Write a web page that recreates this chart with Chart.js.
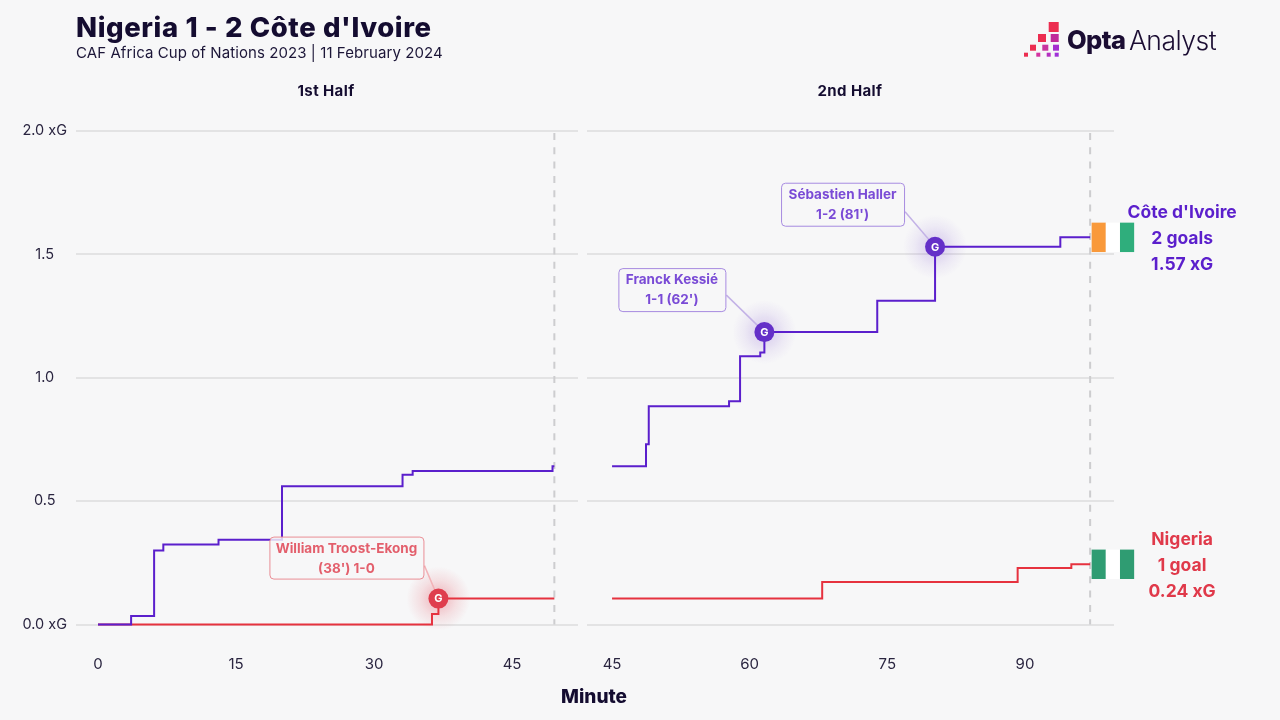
<!DOCTYPE html>
<html>
<head>
<meta charset="utf-8">
<script src="https://cdn.jsdelivr.net/npm/chart.js@4"></script>
<style>
html,body{margin:0;padding:0;background:#f7f7f8;width:1280px;height:720px;overflow:hidden;font-family:Inter,sans-serif;color:#140c30}
canvas{position:absolute;top:0}
.t{position:absolute;white-space:nowrap}
#title{left:76px;top:10px;font-size:27.5px;font-weight:800;line-height:34px;letter-spacing:.6px}
#sub{left:76px;top:44px;font-size:15px;line-height:18px;color:#1c1638;letter-spacing:.08px}
.h{top:82px;font-size:15px;font-weight:700;line-height:18px;width:200px;text-align:center;letter-spacing:.4px}
#minute{left:494px;width:200px;text-align:center;top:686px;font-size:19px;font-weight:800;line-height:22px}
#logo{position:absolute;left:1020px;top:18px}
#opta{left:1067px;top:24px;font-size:25.5px;font-weight:800;line-height:32px;letter-spacing:-.6px;color:#1b0d33}
#analyst{left:1129px;top:24px;font-size:26.5px;font-weight:300;line-height:32px;letter-spacing:-.5px;color:#1b0d33}
</style>
</head>
<body>
<canvas id="c1" width="582" height="720" style="left:0"></canvas>
<canvas id="c2" width="698" height="720" style="left:582px"></canvas>
<div class="t" id="title">Nigeria 1 - 2 Côte d'Ivoire</div>
<div class="t" id="sub">CAF Africa Cup of Nations 2023 | 11 February 2024</div>
<div class="t h" style="left:226px">1st Half</div>
<div class="t h" style="left:750px">2nd Half</div>
<div class="t" id="minute">Minute</div>
<svg id="logo" width="42" height="42" viewBox="0 0 42 42">
<rect x="28.7" y="4" width="10" height="10" fill="#ec2d50"/>
<rect x="18" y="16" width="8" height="8" fill="#ec2d50"/><rect x="30.7" y="16" width="8" height="8" fill="#c02a9a"/>
<rect x="10" y="26.7" width="6" height="6" fill="#ec2d50"/><rect x="22.3" y="26.7" width="6" height="6" fill="#c8349f"/><rect x="33" y="26.7" width="6" height="6" fill="#a52fd0"/>
<rect x="4" y="34.7" width="4" height="4" fill="#ec2d50"/><rect x="16.3" y="34.7" width="4" height="4" fill="#d433a0"/><rect x="26.7" y="34.7" width="4" height="4" fill="#b530c0"/><rect x="34.7" y="34.7" width="4" height="4" fill="#a030d8"/>
</svg>
<div class="t" id="opta">Opta</div>
<div class="t" id="analyst">Analyst</div>
<script>
// ---- data ----
const civMinutes1 = [0, 3.6, 6.1, 7.1, 13.1, 20.0, 33.1, 34.2, 49.4, 49.6];
const civXg1      = [0, 0.034, 0.30, 0.324, 0.343, 0.56, 0.607, 0.622, 0.641, 0.641];
const ngaMinutes1 = [0, 36.3, 37.0, 49.6];
const ngaXg1      = [0, 0.043, 0.105, 0.105];
const civMinutes2 = [45, 48.7, 49.0, 57.75, 58.95, 61.15, 61.6, 73.9, 80.2, 93.85, 97.1];
const civXg2      = [0.641, 0.731, 0.885, 0.905, 1.087, 1.102, 1.185, 1.312, 1.531, 1.569, 1.569];
const ngaMinutes2 = [45, 67.9, 89.2, 95.05, 97.1];
const ngaXg2      = [0.105, 0.1725, 0.229, 0.244, 0.244];
const halfEnd1 = 49.6;
const halfEnd2 = 97.1;
const xTicks1 = [0, 15, 30, 45];
const xTicks2 = [45, 60, 75, 90];
const yTicks = [0, 0.5, 1, 1.5, 2];
const yTickLabels = ['0.0 xG', '0.5', '1.0', '1.5', '2.0 xG'];
const ngaGoalMinute = [37.0];
const ngaGoalXg = [0.105];
const civGoalMinutes = [61.6, 80.2];
const civGoalXg = [1.185, 1.531];
const teamNames = ["Côte d'Ivoire", 'Nigeria'];
const teamGoals = ['2 goals', '1 goal'];
const teamXg = ['1.57 xG', '0.24 xG'];
const ngaCallout = ['William Troost-Ekong', "(38') 1-0"];
const kessieCallout = ['Franck Kessié', "1-1 (62')"];
const hallerCallout = ['Sébastien Haller', "1-2 (81')"];

// ---- styles ----
const GRID = '#e3e3e4', DASH = '#cdcdcf', TICK = '#2a2540';
const PURPLE = '#5b1fcc', RED = '#e6323f', RED_TEXT = '#e0394a';
const FONT = 'Inter, sans-serif';
const zip = (xs, ys) => xs.map((x, i) => ({x, y: ys[i]}));
const line = (xs, ys, color) => ({data: zip(xs, ys), borderColor: color, borderWidth: 2, stepped: true, pointRadius: 0, fill: false, clip: false});
const dash = x => ({data: [{x, y: 2}, {x, y: 0}], borderColor: DASH, borderWidth: 2, borderDash: [7, 7.3], borderDashOffset: -2, pointRadius: 0, clip: false});
const marker = (xs, ys, color) => ({data: zip(xs, ys), showLine: false, pointRadius: 10, pointBackgroundColor: color, pointBorderWidth: 0, clip: false});

function goalGlowPlugin(goals) {
  return {
    id: 'goalGlow',
    beforeDatasetsDraw(chart) {
      const {ctx, scales: {x, y}} = chart;
      goals.forEach(g => {
        const px = x.getPixelForValue(g.x), py = y.getPixelForValue(g.y);
        const gr = ctx.createRadialGradient(px, py, 8, px, py, 32);
        gr.addColorStop(0, g.glow(g.a)); gr.addColorStop(0.5, g.glow(g.a * 0.4)); gr.addColorStop(1, g.glow(0));
        ctx.save();
        ctx.fillStyle = gr;
        ctx.beginPath(); ctx.arc(px, py, 32, 0, Math.PI * 2); ctx.fill();
        ctx.strokeStyle = g.leader; ctx.lineWidth = 1.5;
        ctx.beginPath(); ctx.moveTo(px + g.lx, py + g.ly); ctx.lineTo(px, py); ctx.stroke();
        ctx.restore();
      });
    },
    afterDatasetsDraw(chart) {
      const {ctx, scales: {x, y}} = chart;
      goals.forEach(g => {
        const px = x.getPixelForValue(g.x), py = y.getPixelForValue(g.y);
        ctx.save();
        ctx.textAlign = 'center'; ctx.textBaseline = 'middle';
        ctx.fillStyle = '#fff'; ctx.font = '700 11px ' + FONT;
        ctx.fillText('G', px, py + 0.5);
        const bx = px + g.bx, by = py + g.by;
        ctx.beginPath(); ctx.roundRect(bx + .5, by + .5, g.bw, g.bh, 4);
        ctx.fillStyle = 'rgba(247,247,248,0.82)'; ctx.fill();
        ctx.strokeStyle = g.border; ctx.lineWidth = 1; ctx.stroke();
        ctx.fillStyle = g.text; ctx.font = '700 13.5px ' + FONT;
        ctx.fillText(g.lines[0], bx + g.bw / 2, by + 12);
        ctx.fillText(g.lines[1], bx + g.bw / 2, by + 32);
        ctx.restore();
      });
    }
  };
}

function flagsPlugin(teams) {
  return {
    id: 'flags',
    afterDatasetsDraw(chart) {
      const {ctx, scales: {x, y}} = chart;
      teams.forEach(t => {
        const px = x.getPixelForValue(t.end) + 1.5, py = y.getPixelForValue(t.xg);
        ctx.save();
        t.flag.forEach((c, i) => { ctx.fillStyle = c; ctx.fillRect(px + i * 14.17, py - 14.7, 14.17, 29.4); });
        ctx.textAlign = 'center'; ctx.textBaseline = 'middle';
        ctx.fillStyle = t.color; ctx.font = '700 17.5px ' + FONT;
        const cx = px + 90.5;
        t.lines.forEach((s, i) => ctx.fillText(s, cx, py + 1 + (i - 1) * 26));
        ctx.restore();
      });
    }
  };
}

function options(xMin, xMax, xTicks, left, right, showY) {
  return {
    responsive: false, animation: false, devicePixelRatio: 1,
    layout: {autoPadding: false, padding: {left, right, top: 131, bottom: 40}},
    plugins: {legend: {display: false}, tooltip: {enabled: false}},
    scales: {
      x: {
        type: 'linear', min: xMin, max: xMax, display: true,
        grid: {display: false}, border: {display: false},
        afterBuildTicks: s => { s.ticks = xTicks.map(value => ({value})); },
        afterFit: s => { s.height = 55.5; s.paddingLeft = 0; s.paddingRight = 0; },
        ticks: {autoSkip: false, maxRotation: 0, padding: 23, font: {family: FONT, size: 15}, color: TICK, display: true, callback: v => String(v)}
      },
      y: {
        type: 'linear', min: 0, max: 2,
        grid: {color: GRID, lineWidth: 2, drawTicks: false}, border: {display: false},
        afterBuildTicks: s => { s.ticks = yTicks.map(value => ({value})); },
        afterFit: s => { s.width = showY ? 76 : 0; s.paddingTop = 0; s.paddingBottom = 0; },
        ticks: {
          display: showY, crossAlign: 'center', padding: 9,
          font: {family: FONT, size: 14.5}, color: TICK,
          callback: v => yTickLabels[yTicks.indexOf(v)]
        }
      }
    }
  };
}

const purpleGlow = a => `rgba(90,32,198,${a})`;
const redGlow = a => `rgba(226,58,74,${a})`;

new Chart(document.getElementById('c1'), {
  type: 'line',
  data: {datasets: [
    marker(ngaGoalMinute, ngaGoalXg, '#df3e4e'),
    line(civMinutes1, civXg1, PURPLE),
    line(ngaMinutes1, ngaXg1, RED),
    dash(halfEnd1)
  ]},
  options: options(-2.39, 52.17, xTicks1, 0, 4, true),
  plugins: [goalGlowPlugin([
    {x: ngaGoalMinute[0], y: ngaGoalXg[0], glow: redGlow, a: 0.26, leader: '#f2b3b8', lx: -14, ly: -33,
     bx: -169, by: -62, bw: 154, bh: 42, border: '#e98d95', text: '#e35f6c', lines: ngaCallout}
  ])]
});

new Chart(document.getElementById('c2'), {
  type: 'line',
  data: {datasets: [
    marker(civGoalMinutes, civGoalXg, '#6430c8'),
    line(civMinutes2, civXg2, PURPLE),
    line(ngaMinutes2, ngaXg2, RED),
    dash(halfEnd2)
  ]},
  options: options(42.27, 99.7, xTicks2, 5, 166, false),
  plugins: [
    goalGlowPlugin([
      {x: civGoalMinutes[0], y: civGoalXg[0], glow: purpleGlow, a: 0.16, leader: '#c3b2e6', lx: -38, ly: -37,
       bx: -146, by: -64, bw: 107, bh: 43, border: '#a78be0', text: '#7a4bd6', lines: kessieCallout},
      {x: civGoalMinutes[1], y: civGoalXg[1], glow: purpleGlow, a: 0.16, leader: '#c3b2e6', lx: -30, ly: -35,
       bx: -154, by: -64, bw: 123, bh: 43, border: '#a78be0', text: '#7a4bd6', lines: hallerCallout}
    ]),
    flagsPlugin([
      {end: halfEnd2, xg: civXg2[civXg2.length - 1], flag: ['#f9993a', '#ffffff', '#2fae7c'], color: PURPLE, lines: [teamNames[0], teamGoals[0], teamXg[0]]},
      {end: halfEnd2, xg: ngaXg2[ngaXg2.length - 1], flag: ['#2f9c72', '#ffffff', '#2f9c72'], color: RED_TEXT, lines: [teamNames[1], teamGoals[1], teamXg[1]]}
    ])
  ]
});
</script>
</body>
</html>
